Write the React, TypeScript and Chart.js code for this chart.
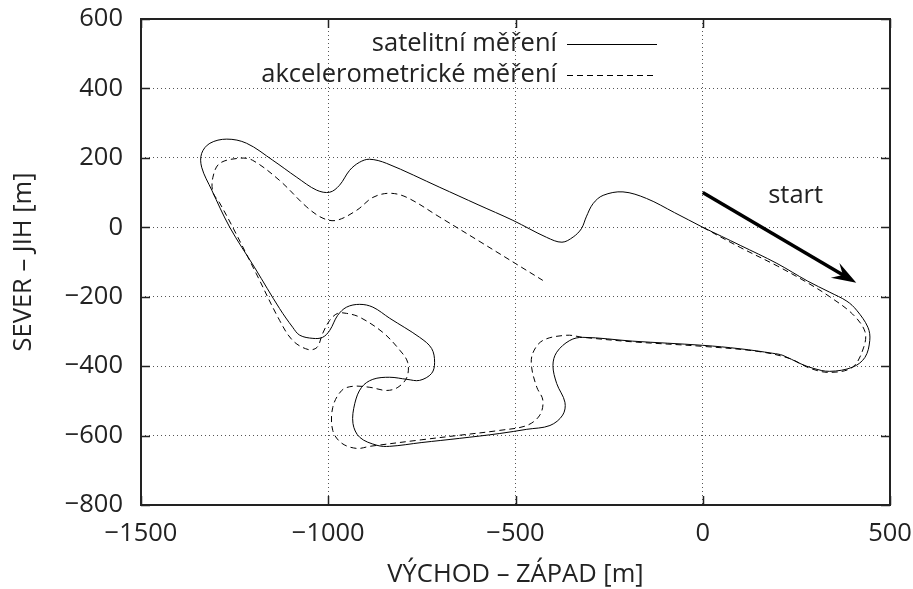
import React, { useEffect, useRef } from "react";
import { Chart, registerables } from "chart.js";

Chart.register(...registerables);

// satellite measurement (solid), east-west x [m], north-south y [m]
const satX = [0, 100, 198, 280, 339, 385, 411, 441, 446, 433, 400, 339, 294, 259, 214, 187, 100, 0, -187, -320, -355, -390, -400, -390, -368, -374, -408, -470, -542, -649, -750, -836, -870, -916, -934, -929, -911, -881, -836, -790, -756, -724, -716, -724, -756, -836, -881, -916, -951, -975, -996, -1015, -1041, -1076, -1095, -1130, -1196, -1263, -1311, -1338, -1338, -1316, -1271, -1218, -1148, -1084, -1031, -996, -970, -943, -917, -890, -844, -702, -600, -507, -417, -376, -346, -324, -311, -293, -266, -213, -150, -75, 0];
const satY = [0, -52, -104, -155, -187, -213, -239, -288, -326, -375, -403, -415, -406, -392, -369, -363, -350, -340, -328, -317, -326, -360, -398, -450, -504, -541, -571, -582, -594, -608, -620, -631, -628, -605, -565, -507, -461, -438, -432, -438, -441, -421, -389, -349, -317, -262, -230, -222, -230, -254, -297, -317, -320, -311, -288, -234, -117, 0, 107, 173, 213, 242, 254, 242, 193, 144, 107, 101, 121, 164, 187, 196, 184, 115, 65, 20, -29, -43, -28, -4, 30, 68, 92, 102, 83, 42, 0];

// accelerometric measurement (dashed)
const accX = [0, 100, 200, 280, 339, 400, 433, 430, 400, 339, 286, 232, 150, 0, -187, -320, -363, -427, -454, -457, -443, -427, -435, -470, -542, -649, -750, -889, -924, -964, -988, -988, -964, -934, -889, -844, -814, -790, -788, -809, -854, -916, -951, -975, -996, -1015, -1030, -1054, -1095, -1130, -1192, -1255, -1290, -1308, -1308, -1290, -1236, -1202, -1130, -1057, -1014, -978, -924, -881, -836, -790, -702, -600, -427];
const accY = [0, -58, -112, -160, -200, -250, -300, -345, -403, -418, -406, -378, -358, -343, -330, -317, -311, -326, -363, -403, -461, -498, -541, -571, -585, -599, -612, -631, -637, -622, -585, -519, -470, -458, -461, -470, -461, -432, -389, -354, -303, -259, -248, -248, -268, -306, -346, -352, -326, -268, -134, 0, 70, 101, 144, 184, 199, 193, 135, 58, 26, 20, 49, 86, 98, 86, 29, -38, -153];

const xTicks = [-1500, -1000, -500, 0, 500];
const yTicks = [-800, -600, -400, -200, 0, 200, 400, 600];

const seriesLabels = ["satelitní měření", "akcelerometrické měření"];
const xTitle = "VÝCHOD – ZÁPAD [m]";
const yTitle = "SEVER – JIH [m]";

const arrowFrom = [0, 100];
const arrowTo = [410, -160];
const startLabel = "start";
const startLabelPos = [248, 92];

const FONT = "'Open Sans'";
const FS = 25.5;
const TEXT = "#222";

const toPts = (xs: number[], ys: number[]) => xs.map((x, i) => ({ x, y: ys[i] }));
const fmt = (v: number) => String(v).replace("-", "\u2212");

const overlay = {
  id: "overlay",
  afterDraw(chart: any) {
    const { ctx, chartArea: a, scales } = chart;
    const xs = scales.x;
    const ys = scales.y;
    ctx.save();
    ctx.strokeStyle = "#222";
    ctx.lineWidth = 1.5;
    ctx.setLineDash([]);
    const seg = (x1: number, y1: number, x2: number, y2: number) => {
      ctx.beginPath();
      ctx.moveTo(x1, y1);
      ctx.lineTo(x2, y2);
      ctx.stroke();
    };
    // inward ticks, mirrored on all sides
    xTicks.forEach((v) => {
      const px = Math.round(xs.getPixelForValue(v)) + 0.5;
      seg(px, a.bottom, px, a.bottom - 9);
      seg(px, a.top, px, a.top + 9);
    });
    yTicks.forEach((v) => {
      const py = Math.round(ys.getPixelForValue(v)) + 0.5;
      seg(a.left, py, a.left + 9, py);
      seg(a.right, py, a.right - 9, py);
    });
    // frame
    ctx.lineWidth = 2;
    ctx.strokeStyle = "#222";
    ctx.strokeRect(a.left, a.top, a.right - a.left, a.bottom - a.top);

    // legend (key), top right inside the plot
    ctx.font = `${FS}px ${FONT}`;
    ctx.fillStyle = TEXT;
    ctx.textAlign = "right";
    ctx.textBaseline = "middle";
    const textRight = a.right - 333;
    const lx1 = a.right - 323;
    const lx2 = a.right - 233;
    const rows = [a.top + 25, a.top + 56];
    rows.forEach((ry, i) => {
      ctx.fillText(seriesLabels[i], textRight, ry);
      ctx.strokeStyle = "#000";
      ctx.lineWidth = 1;
      ctx.setLineDash(i === 0 ? [] : [6, 4]);
      seg(lx1, ry + 0.5, lx2, ry + 0.5);
    });
    ctx.setLineDash([]);

    // arrow
    const x1 = xs.getPixelForValue(arrowFrom[0]);
    const y1 = ys.getPixelForValue(arrowFrom[1]);
    const x2 = xs.getPixelForValue(arrowTo[0]);
    const y2 = ys.getPixelForValue(arrowTo[1]);
    const ang = Math.atan2(y2 - y1, x2 - x1);
    const headLen = 26;
    const headAng = 0.33;
    ctx.strokeStyle = "#000";
    ctx.lineWidth = 3.5;
    ctx.lineCap = "butt";
    seg(x1, y1, x2 - Math.cos(ang) * 6, y2 - Math.sin(ang) * 6);
    ctx.fillStyle = "#000";
    ctx.beginPath();
    ctx.moveTo(x2, y2);
    ctx.lineTo(x2 - headLen * Math.cos(ang - headAng), y2 - headLen * Math.sin(ang - headAng));
    ctx.lineTo(x2 - headLen * 0.6 * Math.cos(ang), y2 - headLen * 0.6 * Math.sin(ang));
    ctx.lineTo(x2 - headLen * Math.cos(ang + headAng), y2 - headLen * Math.sin(ang + headAng));
    ctx.closePath();
    ctx.fill();

    // start label
    ctx.fillStyle = TEXT;
    ctx.textAlign = "center";
    ctx.textBaseline = "middle";
    ctx.font = `${FS}px ${FONT}`;
    ctx.fillText(startLabel, xs.getPixelForValue(startLabelPos[0]), ys.getPixelForValue(startLabelPos[1]));
    ctx.restore();
  },
};

export default function App() {
  const ref = useRef<HTMLCanvasElement>(null);
  useEffect(() => {
    if (!ref.current) return;
    const chart = new Chart(ref.current, {
      type: "scatter",
      data: {
        datasets: [
          {
            label: seriesLabels[0],
            data: toPts(satX, satY),
            showLine: true,
            borderColor: "#000",
            borderWidth: 1,
            pointRadius: 0,
            tension: 0.35,
            fill: false,
          },
          {
            label: seriesLabels[1],
            data: toPts(accX, accY),
            showLine: true,
            borderColor: "#000",
            borderWidth: 1,
            borderDash: [6, 4],
            pointRadius: 0,
            tension: 0.35,
            fill: false,
          },
        ],
      },
      options: {
        animation: false,
        responsive: true,
        maintainAspectRatio: false,
        layout: { padding: { top: 19, right: 23, left: 0, bottom: 0 } },
        plugins: { legend: { display: false }, tooltip: { enabled: false } },
        scales: {
          x: {
            type: "linear",
            min: -1500,
            max: 500,
            afterBuildTicks: (s: any) => {
              s.ticks = xTicks.map((v) => ({ value: v }));
            },
            afterFit: (s: any) => {
              s.height = 84;
              s.paddingLeft = 0;
              s.paddingRight = 0;
            },
            ticks: {
              color: TEXT,
              font: { family: FONT, size: FS },
              padding: 13,
              maxRotation: 0,
              callback: (v: any) => fmt(Number(v)),
            },
            grid: { color: "#555", lineWidth: 1, drawTicks: false },
            border: { display: false, dash: [1, 3] },
            title: {
              display: true,
              text: xTitle,
              color: TEXT,
              font: { family: FONT, size: FS },
              padding: { top: 0, bottom: -1 },
            },
          },
          y: {
            type: "linear",
            min: -800,
            max: 600,
            afterBuildTicks: (s: any) => {
              s.ticks = yTicks.map((v) => ({ value: v }));
            },
            afterFit: (s: any) => {
              s.width = 141;
              s.paddingTop = 0;
              s.paddingBottom = 0;
            },
            ticks: {
              color: TEXT,
              font: { family: FONT, size: FS },
              padding: 18,
              callback: (v: any) => fmt(Number(v)),
            },
            grid: { color: "#555", lineWidth: 1, drawTicks: false },
            border: { display: false, dash: [1, 3] },
            title: {
              display: true,
              text: yTitle,
              color: TEXT,
              font: { family: FONT, size: FS },
              padding: { top: 8, bottom: 0 },
            },
          },
        },
      },
      plugins: [overlay],
    });
    return () => chart.destroy();
  }, []);
  return (
    <div style={{ position: "fixed", left: 0, top: 0, width: 913, height: 589, background: "#fff" }}>
      <canvas ref={ref} />
    </div>
  );
}
